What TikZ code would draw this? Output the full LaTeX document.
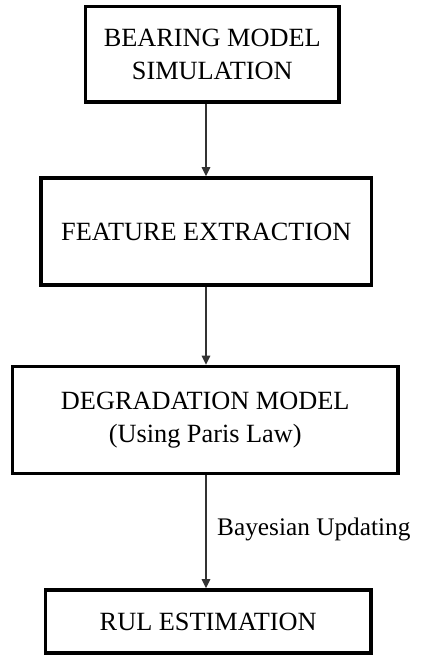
\documentclass[tikz,border=0pt]{standalone}
\usepackage{fontspec}
\setmainfont{Liberation Serif}
\usetikzlibrary{arrows.meta}
\begin{document}
\begin{tikzpicture}[x=1pt,y=-1pt,
  stage/.style={draw=black, line width=3.6pt, rectangle, inner sep=0pt,
    align=center, font=\fontsize{26.3}{33}\selectfont},
  flow/.style={draw=black!80, line width=1.3pt,
    -{Triangle[width=8.5pt,length=9pt]}},
  lbl/.style={inner sep=0pt, font=\fontsize{25.3}{32}\selectfont}]
\useasboundingbox (0,0) rectangle (422,655);

% process stages
\node[stage, minimum width=253.5pt, minimum height=95.5pt] (sim) at (212.25,54.25)
  {BEARING MODEL\\SIMULATION};
\node[stage, minimum width=330.5pt, minimum height=107pt] (feat) at (206.25,231.5)
  {FEATURE EXTRACTION};
\node[stage, minimum width=385.5pt, minimum height=107pt] (deg) at (205.25,420)
  {DEGRADATION MODEL\\(Using Paris Law)};
\node[stage, minimum width=325.7pt, minimum height=63pt] (rul) at (208.2,621.5)
  {RUL ESTIMATION};

% common vertical axis of the connectors
\coordinate (axis) at (206,0);

\draw[flow] (sim.south -| axis) -- (feat.north -| axis);
\draw[flow] (feat.south -| axis) -- (deg.north -| axis);
\draw[flow] (deg.south -| axis) -- (rul.north -| axis);

\node[lbl, anchor=base west] (upd) at (217,535) {Bayesian Updating};
\end{tikzpicture}
\end{document}
